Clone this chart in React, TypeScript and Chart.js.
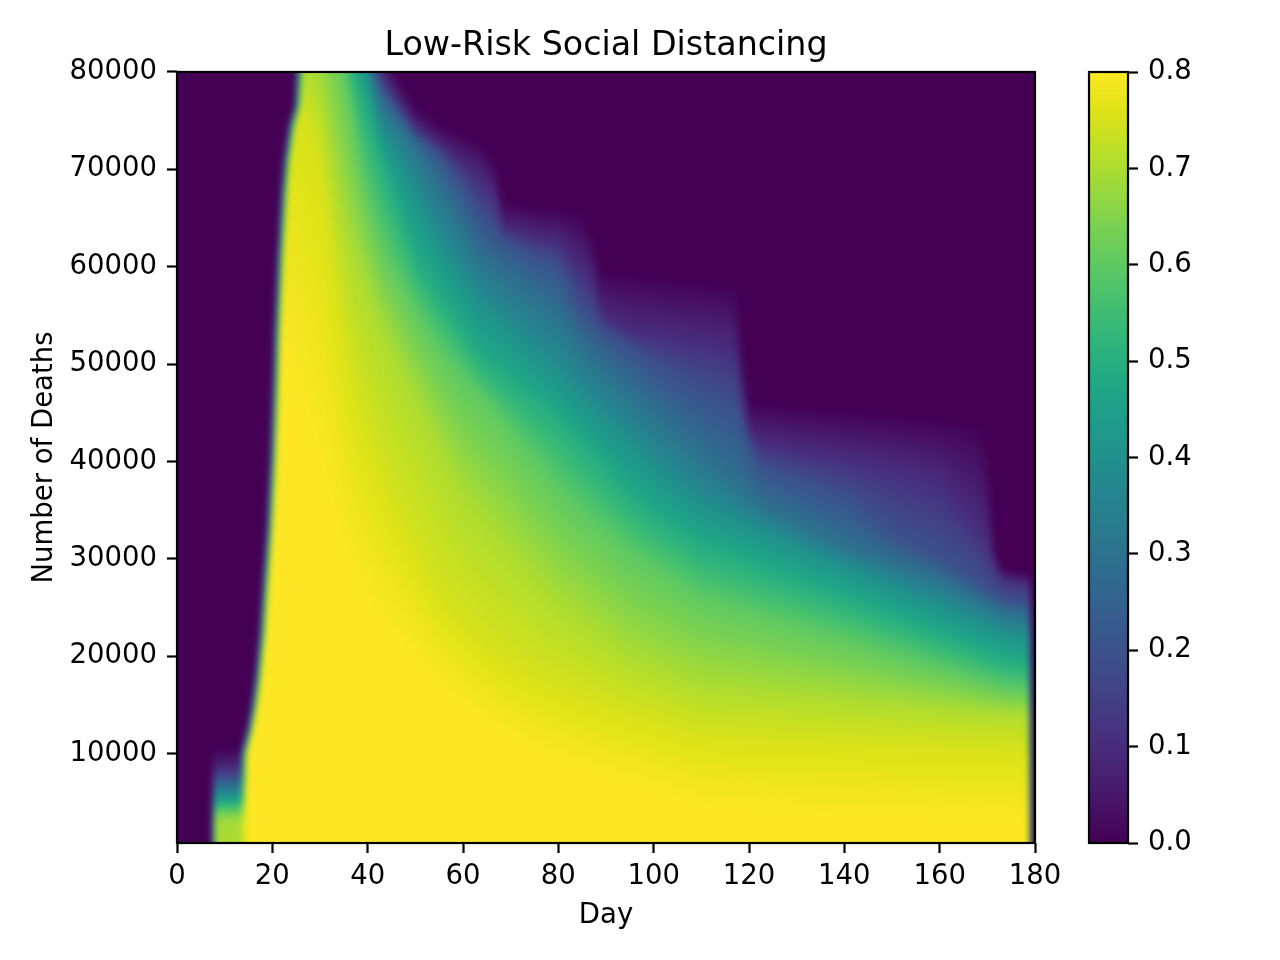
import React, { useEffect, useRef } from "react";
import { Chart, registerables } from "chart.js";

Chart.register(...registerables);

const FONT = "'DejaVu Sans', 'Liberation Sans', sans-serif";

// ---------- text ----------
const chartTitle = "Low-Risk Social Distancing";
const xTitle = "Day";
const yTitle = "Number of Deaths";

// ---------- axes ----------
const dayMin = 0;
const dayMax = 180;
const deathsMin = 800;
const deathsMax = 80000;
const xTickValues = [0, 20, 40, 60, 80, 100, 120, 140, 160, 180];
const yTickValues = [10000, 20000, 30000, 40000, 50000, 60000, 70000, 80000];
const colorTickValues = [0, 0.1, 0.2, 0.3, 0.4, 0.5, 0.6, 0.7, 0.8];
const colorMax = 0.8;

// ---------- field ----------
// value levels whose contour (number of deaths) is given per profile day
const levels = [0.8, 0.75, 0.7, 0.6, 0.5, 0.4, 0.3, 0.2, 0.1, 0.0];
const profileDays = [20, 24, 27, 30, 33, 36, 39, 41, 42.6, 45, 50, 55, 60, 63.6, 66.5, 68.5, 75, 80, 84.5, 87, 89, 95, 101, 110, 117, 118.5, 120, 122, 130, 141, 150, 160, 168, 170, 171.5, 173, 178];
const c80 = [55000, 48000, 44000, 39200, 34200, 28800, 25750, 24500, 23500, 22000, 19500, 17000, 14900, 13500, 12600, 12000, 10000, 9170, 8420, 8000, 7670, 6750, 5850, 4500, 4270, 4220, 4170, 4100, 3830, 3490, 3370, 3240, 3130, 3110, 3090, 3070, 3000];
const c75 = [82000, 78000, 74750, 71000, 60000, 50250, 44250, 41500, 39300, 36000, 31000, 26000, 23500, 21700, 20550, 19950, 18000, 16960, 16020, 15500, 15190, 14270, 13350, 12000, 11810, 11770, 11730, 11680, 11470, 11180, 11010, 10820, 10670, 10630, 10600, 10580, 10500];
const c70 = [86000, 83500, 80400, 78500, 69800, 62660, 58630, 55950, 53800, 51360, 46300, 41400, 36500, 34470, 32840, 31710, 28050, 25440, 23810, 22900, 22180, 20000, 18800, 17000, 16650, 16580, 16500, 16400, 16000, 15460, 15070, 14650, 14310, 14230, 14160, 14100, 14000];
const c60 = [95000, 93000, 91500, 90000, 86000, 77670, 69200, 65600, 62720, 60140, 55500, 51570, 48500, 46700, 45200, 44020, 40160, 37190, 34940, 33880, 33040, 30500, 28700, 26000, 25010, 24790, 24580, 24300, 23160, 21600, 20250, 18750, 17550, 17250, 17030, 16800, 16500];
const c50 = [97000, 96000, 94000, 92000, 88000, 82000, 76900, 73620, 71000, 67590, 60500, 56790, 53070, 50400, 49270, 48490, 45950, 44000, 41620, 40290, 39240, 36060, 33770, 31000, 29760, 29490, 29230, 28870, 27450, 25500, 23810, 21940, 20440, 20060, 19780, 19500, 19000];
const c40 = [98000, 97500, 96500, 94000, 91000, 86500, 82000, 77650, 74300, 72500, 67780, 62420, 58540, 56250, 54930, 54070, 51290, 49000, 46750, 45560, 44630, 41810, 39000, 35500, 34030, 33720, 33400, 32980, 31310, 29000, 27170, 25140, 23520, 23110, 22800, 22500, 22000];
const c30 = [99000, 98500, 97500, 96000, 93000, 88000, 84000, 79780, 77000, 75470, 72280, 68340, 63900, 60700, 59690, 58990, 56740, 55000, 52040, 50400, 49560, 47030, 44500, 40500, 37580, 36960, 36330, 35500, 33610, 31000, 29500, 27830, 25860, 25320, 24910, 24500, 24000];
const c20 = [99500, 99000, 98000, 97000, 94000, 89500, 85500, 81000, 78700, 77010, 73500, 71610, 68090, 65000, 63640, 62700, 61000, 60000, 55500, 54610, 53500, 51500, 49500, 47000, 45500, 43750, 42000, 39500, 38030, 36000, 32500, 30000, 27500, 26820, 26310, 25800, 25500];
const c10 = [99800, 99500, 98500, 97500, 95000, 90500, 86500, 82500, 80300, 78000, 74300, 72500, 70500, 69000, 67500, 64000, 63000, 62500, 60000, 58500, 55000, 53500, 53000, 52300, 51500, 47000, 43000, 42000, 41200, 40300, 39500, 38000, 33500, 31500, 29500, 28000, 27500];
const c00 = [100000, 100000, 99500, 99000, 97000, 93000, 88000, 84250, 81900, 80500, 76500, 74500, 73500, 72780, 71000, 66500, 66110, 65800, 65530, 63500, 59500, 59180, 58860, 58380, 58000, 52000, 46000, 45920, 45580, 45130, 44750, 44330, 44000, 41000, 31000, 29000, 28500];

// rising left edge: day at which the field switches on, per number of deaths
const edgeDeaths = [800, 5000, 7500, 10000, 12500, 15000, 17500, 20000, 22500, 25000, 27800, 33200, 40100, 47000, 53800, 60700, 67600, 71000, 74400, 76500, 80000];
const edgeDays = [14.0, 13.9, 13.9, 14.0, 15.3, 16.2, 16.9, 17.4, 17.9, 18.2, 18.6, 19.4, 20.1, 20.6, 21.0, 21.6, 22.4, 23.0, 24.0, 25.2, 25.6];
const edgeHalfWidth = 1.0;

// early low-death patch (days ~8-14)
const patchDeaths = [800, 3000, 4200, 5000, 6000, 7000, 8000, 9000, 10500];
const patchValues = [0.7, 0.69, 0.6, 0.48, 0.37, 0.25, 0.14, 0.07, 0];
const patchStartDay = 7.6;
const patchHalfWidth = 0.6;

// right edge: field ends
const rightFadeStart = 178.5;
const rightFadeEnd = 179.6;

// ---------- viridis ----------
const viridisStops = [
  "#440154", "#471365", "#482475", "#463480", "#414487", "#3b528b", "#355f8d",
  "#2f6c8e", "#2a788e", "#25848e", "#21918c", "#1e9c89", "#22a884", "#2fb47c",
  "#44bf70", "#5ec962", "#7ad151", "#9bd93c", "#bddf26", "#dfe318", "#fde725",
];

function hexToRgb(h: string): number[] {
  return [parseInt(h.slice(1, 3), 16), parseInt(h.slice(3, 5), 16), parseInt(h.slice(5, 7), 16)];
}

const LUT: number[][] = (() => {
  const rgb = viridisStops.map(hexToRgb);
  const out: number[][] = [];
  const n = rgb.length - 1;
  for (let i = 0; i < 256; i++) {
    const t = (i / 255) * n;
    const k = Math.min(n - 1, Math.floor(t));
    const f = t - k;
    out.push([0, 1, 2].map((c) => Math.round(rgb[k][c] + f * (rgb[k + 1][c] - rgb[k][c]))));
  }
  return out;
})();

function colorFor(v: number): number[] {
  const t = Math.max(0, Math.min(1, v / colorMax));
  return LUT[Math.round(t * 255)];
}

function interp(xs: number[], ys: number[], x: number): number {
  const n = xs.length;
  if (x <= xs[0]) return ys[0];
  if (x >= xs[n - 1]) return ys[n - 1];
  let i = 1;
  while (xs[i] < x) i++;
  const t = (x - xs[i - 1]) / (xs[i] - xs[i - 1]);
  return ys[i - 1] + t * (ys[i] - ys[i - 1]);
}

function smooth(t: number): number {
  const c = Math.max(0, Math.min(1, t));
  return c * c * (3 - 2 * c);
}

const contours = [c80, c75, c70, c60, c50, c40, c30, c20, c10, c00];

function profileValue(cr: number[], n: number): number {
  if (n <= cr[0]) return levels[0];
  for (let k = 1; k < levels.length; k++) {
    if (n <= cr[k]) {
      const span = cr[k] - cr[k - 1];
      const t = span > 0 ? (n - cr[k - 1]) / span : 1;
      return levels[k - 1] + t * (levels[k] - levels[k - 1]);
    }
  }
  return 0;
}

const BLUR = 3; // css px, imitates the image interpolation of the original

const heatmapPlugin = {
  id: "heatmap",
  beforeDatasetsDraw(chart: any) {
    const { ctx, chartArea: a, scales } = chart;
    const xs = scales.x;
    const ys = scales.y;
    const dpr = chart.currentDevicePixelRatio || 1;
    const W = Math.round(a.width * dpr);
    const H = Math.round(a.height * dpr);
    const M = Math.ceil(BLUR * 4 * dpr);
    const W2 = W + 2 * M;
    const H2 = H + 2 * M;
    const off = document.createElement("canvas");
    off.width = W2;
    off.height = H2;
    const octx = off.getContext("2d")!;
    const img = octx.createImageData(W2, H2);
    const data = img.data;
    const rowN: number[] = [];
    const rowEdge: number[] = [];
    const rowPatch: number[] = [];
    for (let py = 0; py < H2; py++) {
      let n = ys.getValueForPixel(a.top + (py - M + 0.5) / dpr);
      n = Math.max(deathsMin, Math.min(deathsMax, n));
      rowN.push(n);
      rowEdge.push(interp(edgeDeaths, edgeDays, n));
      rowPatch.push(interp(patchDeaths, patchValues, n));
    }
    for (let px = 0; px < W2; px++) {
      let day = xs.getValueForPixel(a.left + (px - M + 0.5) / dpr);
      day = Math.max(dayMin, Math.min(dayMax, day));
      const cr = contours.map((c) => interp(profileDays, c, day));
      const patchOn = smooth((day - (patchStartDay - patchHalfWidth)) / (2 * patchHalfWidth));
      const fade = smooth((rightFadeEnd - day) / (rightFadeEnd - rightFadeStart));
      for (let py = 0; py < H2; py++) {
        const n = rowN[py];
        const tMain = smooth((day - (rowEdge[py] - edgeHalfWidth)) / (2 * edgeHalfWidth));
        const main = tMain > 0 ? profileValue(cr, n) : 0;
        const left = rowPatch[py] * patchOn;
        const v = (left * (1 - tMain) + main * tMain) * fade;
        const col = colorFor(v);
        const i = (py * W2 + px) * 4;
        data[i] = col[0];
        data[i + 1] = col[1];
        data[i + 2] = col[2];
        data[i + 3] = 255;
      }
    }
    octx.putImageData(img, 0, 0);
    const blurred = document.createElement("canvas");
    blurred.width = W;
    blurred.height = H;
    const bctx = blurred.getContext("2d")!;
    bctx.filter = `blur(${BLUR * dpr}px)`;
    bctx.drawImage(off, -M, -M);
    ctx.save();
    ctx.drawImage(blurred, a.left, a.top, a.width, a.height);
    ctx.restore();
  },
};

const colorbarPlugin = {
  id: "colorbarFill",
  beforeDatasetsDraw(chart: any) {
    const { ctx, chartArea: a, scales } = chart;
    const ys = scales.y;
    const dpr = chart.currentDevicePixelRatio || 1;
    const H = Math.round(a.height * dpr);
    ctx.save();
    for (let py = 0; py < H; py++) {
      const v = ys.getValueForPixel(a.top + (py + 0.5) / dpr);
      const c = colorFor(v);
      ctx.fillStyle = `rgb(${c[0]},${c[1]},${c[2]})`;
      ctx.fillRect(a.left, a.top + py / dpr, a.width, 1 / dpr + 0.02);
    }
    ctx.restore();
  },
};

const framePlugin = {
  id: "frame",
  afterDraw(chart: any) {
    const { ctx, chartArea: a } = chart;
    ctx.save();
    ctx.strokeStyle = "#000";
    ctx.lineWidth = 2.2;
    ctx.strokeRect(a.left, a.top, a.right - a.left, a.bottom - a.top);
    ctx.restore();
  },
};

const tickFont = { family: FONT, size: 27.5, weight: "normal" as const };

export default function App() {
  const mainRef = useRef<HTMLCanvasElement>(null);
  const cbRef = useRef<HTMLCanvasElement>(null);

  useEffect(() => {
    const main = new Chart(mainRef.current!, {
      type: "scatter",
      data: { datasets: [] },
      options: {
        animation: false,
        responsive: false,
        events: [],
        layout: { padding: { left: 0, right: 245, top: 0, bottom: 0 } },
        plugins: {
          legend: { display: false },
          tooltip: { enabled: false },
          title: {
            display: true,
            text: chartTitle,
            color: "#000",
            fullSize: false,
            font: { family: FONT, size: 33.3, weight: "normal", lineHeight: 1.2 },
            padding: { top: 26.5, bottom: 5.5 },
          },
        },
        scales: {
          x: {
            type: "linear",
            min: dayMin,
            max: dayMax,
            afterFit: (s: any) => {
              s.height = 117;
            },
            afterBuildTicks: (s: any) => {
              s.ticks = xTickValues.map((v) => ({ value: v }));
            },
            ticks: {
              color: "#000",
              font: tickFont,
              padding: 7,
              maxRotation: 0,
              autoSkip: false,
              callback: (v: any) => String(v),
            },
            grid: { drawOnChartArea: false, drawTicks: true, tickLength: 10, tickWidth: 2.2, tickColor: "#000" },
            border: { display: false },
            title: { display: true, text: xTitle, color: "#000", font: tickFont, padding: { top: 0, bottom: 28 } },
          },
          y: {
            type: "linear",
            min: deathsMin,
            max: deathsMax,
            afterFit: (s: any) => {
              s.width = 177;
            },
            afterBuildTicks: (s: any) => {
              s.ticks = yTickValues.map((v) => ({ value: v }));
            },
            ticks: {
              color: "#000",
              font: tickFont,
              padding: 10,
              autoSkip: false,
              callback: (v: any) => String(v),
            },
            grid: { drawOnChartArea: false, drawTicks: true, tickLength: 10, tickWidth: 2.2, tickColor: "#000" },
            border: { display: false },
            title: { display: true, text: yTitle, color: "#000", font: tickFont, padding: { top: 28, bottom: 0 } },
          },
        },
      } as any,
      plugins: [heatmapPlugin, framePlugin],
    });

    const cb = new Chart(cbRef.current!, {
      type: "scatter",
      data: { datasets: [] },
      options: {
        animation: false,
        responsive: false,
        events: [],
        layout: { padding: { left: 49, right: 0, top: 72, bottom: 117 } },
        plugins: { legend: { display: false }, tooltip: { enabled: false }, title: { display: false } },
        scales: {
          x: { type: "linear", display: false, min: 0, max: 1 },
          y: {
            type: "linear",
            position: "right",
            min: 0,
            max: colorMax,
            afterFit: (s: any) => {
              s.width = 152;
            },
            afterBuildTicks: (s: any) => {
              s.ticks = colorTickValues.map((v) => ({ value: v }));
            },
            ticks: {
              color: "#000",
              font: tickFont,
              padding: 10,
              autoSkip: false,
              callback: (v: any) => Number(v).toFixed(1),
            },
            grid: { drawOnChartArea: false, drawTicks: true, tickLength: 10, tickWidth: 2.2, tickColor: "#000" },
            border: { display: false },
          },
        },
      } as any,
      plugins: [colorbarPlugin, framePlugin],
    });

    return () => {
      main.destroy();
      cb.destroy();
    };
  }, []);

  return (
    <div style={{ position: "absolute", left: 0, top: 0, width: 1280, height: 960, background: "#fff", overflow: "hidden" }}>
      <canvas ref={mainRef} width={1280} height={960} style={{ position: "absolute", left: 0, top: 0 }} />
      <canvas ref={cbRef} width={240} height={960} style={{ position: "absolute", left: 1040, top: 0 }} />
    </div>
  );
}
